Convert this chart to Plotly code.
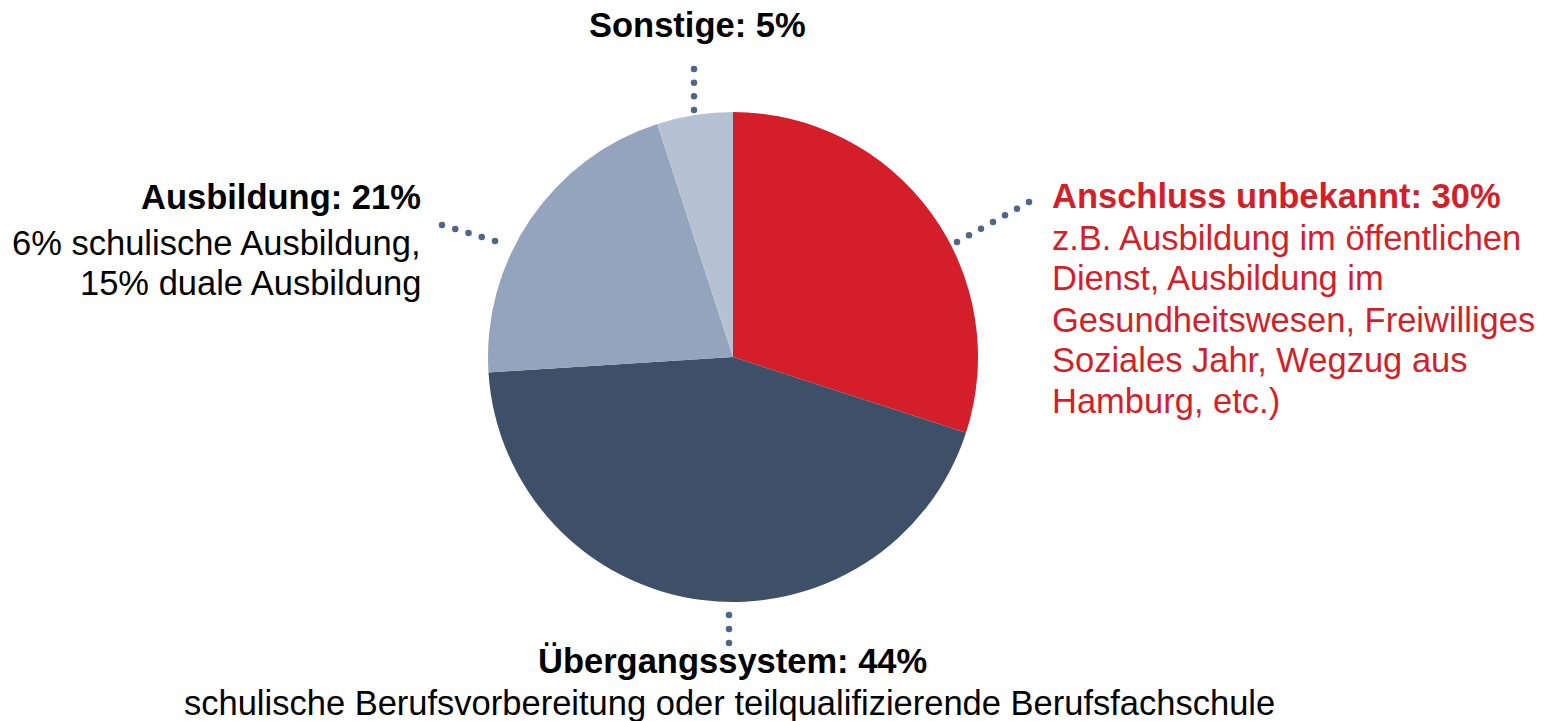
import numpy as np
import plotly.graph_objects as go

# ---- data ----
categories = ["Anschluss unbekannt", "Übergangssystem", "Ausbildung", "Sonstige"]
values = [30, 44, 21, 5]
colors = ["#D41F2B", "#3E4F68", "#93A4BC", "#B6C2D4"]

title_sonstige = "Sonstige: 5%"
title_ausbildung = "Ausbildung: 21%"
lines_ausbildung = ["6% schulische Ausbildung,", "15% duale Ausbildung"]
title_anschluss = "Anschluss unbekannt: 30%"
lines_anschluss = ["z.B. Ausbildung im öffentlichen", "Dienst, Ausbildung im",
                   "Gesundheitswesen, Freiwilliges", "Soziales Jahr, Wegzug aus",
                   "Hamburg, etc.)"]
title_uebergang = "Übergangssystem: 44%"
lines_uebergang = ["schulische Berufsvorbereitung oder teilqualifizierende Berufsfachschule"]

W, H = 1549, 721
FONT = "Liberation Sans, Arial, sans-serif"
FS = 34.5
RED = "#D41F2B"
DOT = "#4F6688"


def px(x):
    return x / W


def py(y):
    return 1 - y / H


fig = go.Figure()

# pie: center (733,357), radius 245
cx, cy, r = 733, 357, 245
fig.add_trace(go.Pie(
    labels=categories, values=values, sort=False, direction="clockwise",
    rotation=0, marker=dict(colors=colors, line=dict(width=0)),
    textinfo="none", hoverinfo="label+percent", showlegend=False,
    domain=dict(x=[px(cx - r), px(cx + r)], y=[py(cy + r), py(cy - r)]),
))

# dotted leader lines (pixel space on hidden axes)
leaders = [
    ((694, 69), (694, 110), 4),
    ((729, 615), (729, 643), 3),
    ((957, 242), (1029, 202), 7),
    ((442, 225), (495, 241), 5),
]
dx, dy = [], []
for (x0, y0), (x1, y1), n in leaders:
    dx += list(np.linspace(x0, x1, n)) + [None]
    dy += list(np.linspace(y0, y1, n)) + [None]
fig.add_trace(go.Scatter(x=dx, y=dy, mode="markers",
                         marker=dict(size=6.5, color=DOT), hoverinfo="skip",
                         showlegend=False, xaxis="x", yaxis="y"))


def ann(text, x, ycenter, anchor, color="#000000", bold=False):
    fig.add_annotation(
        text=f"<b>{text}</b>" if bold else text,
        x=px(x), y=py(ycenter), xref="paper", yref="paper",
        xanchor=anchor, yanchor="middle", showarrow=False,
        font=dict(family=FONT, size=FS, color=color), borderpad=0,
    )


# baseline -> center offset ~ 12px
ann(title_sonstige, 697, 25, "center", bold=True)

ann(title_ausbildung, 422, 197, "right", bold=True)
for t, yb in zip(lines_ausbildung, [255, 295]):
    ann(t, 422, yb - 12, "right")

ann(title_anschluss, 1051, 196, "left", color=RED, bold=True)
for t, yb in zip(lines_anschluss, [250, 290, 332, 372, 413]):
    ann(t, 1051, yb - 12, "left", color=RED)

ann(title_uebergang, 732, 661, "center", bold=True)
for t, yb in zip(lines_uebergang, [715]):
    ann(t, 729, yb - 12, "center")

fig.update_layout(
    width=W, height=H, margin=dict(l=0, r=0, t=0, b=0),
    paper_bgcolor="white", plot_bgcolor="rgba(0,0,0,0)",
    xaxis=dict(range=[0, W], visible=False, domain=[0, 1], fixedrange=True),
    yaxis=dict(range=[H, 0], visible=False, domain=[0, 1], fixedrange=True),
    font=dict(family=FONT),
)

fig.write_html("out.html", config={"displayModeBar": False},
               post_script="document.body.style.margin='0';document.body.style.overflow='hidden';")
